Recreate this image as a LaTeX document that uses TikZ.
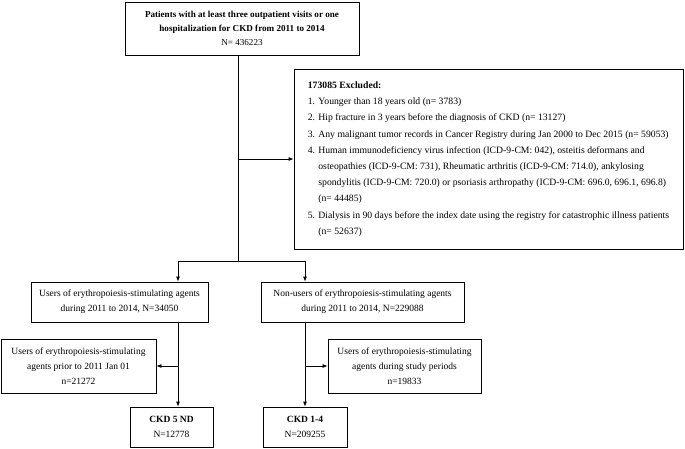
\documentclass[tikz,border=0pt]{standalone}
\usepackage{fontspec}
\setmainfont{Liberation Serif}
\usetikzlibrary{arrows.meta}
\tikzset{
  box/.style={draw, line width=0.8pt, inner sep=0pt, align=center, font=\fontsize{9.5}{15}\selectfont},
  arr/.style={line width=0.8pt, -{Latex[length=5pt,width=4pt]}},
  conn/.style={line width=0.8pt},
}
\begin{document}
\begin{tikzpicture}[x=1pt,y=1pt]
\useasboundingbox (0,0) rectangle (685,-448);
\node[box, minimum width=234pt, minimum height=53pt, font=\fontsize{9.1}{14.2}\selectfont] (top) at (242,-28.5)
  {\textbf{Patients with at least three outpatient visits or one}\\
   \textbf{hospitalization for CKD from 2011 to 2014}\\ N= 436223};
\node[box, minimum width=389pt, minimum height=180pt, align=left, font=\fontsize{9.7}{16.2}\selectfont] (excl) at (488.5,-159)
  {\textbf{173085 Excluded:}\\
   1. Younger than 18 years old (n= 3783)\\
   2. Hip fracture in 3 years before the diagnosis of CKD (n= 13127)\\
   3. Any malignant tumor records in Cancer Registry during Jan 2000 to Dec 2015 (n= 59053)\\
   4. Human immunodeficiency virus infection (ICD-9-CM: 042), osteitis deformans and\\
   \hphantom{4. }osteopathies (ICD-9-CM: 731), Rheumatic arthritis (ICD-9-CM: 714.0), ankylosing\\
   \hphantom{4. }spondylitis (ICD-9-CM: 720.0) or psoriasis arthropathy (ICD-9-CM: 696.0, 696.1, 696.8)\\
   \hphantom{4. }(n= 44485)\\
   5. Dialysis in 90 days before the index date using the registry for catastrophic illness patients\\
   \hphantom{5. }(n= 52637)};
\node[box, minimum width=177pt, minimum height=40pt] (users) at (119.5,-302)
  {Users of erythropoiesis-stimulating agents\\ during 2011 to 2014, N=34050};
\node[box, minimum width=203pt, minimum height=40pt] (nonusers) at (362.5,-302)
  {Non-users of erythropoiesis-stimulating agents\\ during 2011 to 2014, N=229088};
\node[box, minimum width=155pt, minimum height=54pt] (prior) at (78.5,-366)
  {Users of erythropoiesis-stimulating\\ agents prior to 2011 Jan 01\\ n=21272};
\node[box, minimum width=153pt, minimum height=54pt] (during) at (404.5,-366)
  {Users of erythropoiesis-stimulating\\ agents during study periods\\ n=19833};
\node[box, minimum width=83pt, minimum height=40pt] (ckd5) at (171.5,-427)
  {\textbf{CKD 5 ND}\\ N=12778};
\node[box, minimum width=84pt, minimum height=40pt] (ckd14) at (305,-427)
  {\textbf{CKD 1-4}\\ N=209255};
\coordinate (tt) at (238,-55);
\coordinate (br) at (238,-261);
\coordinate (bl) at (178,-261);
\coordinate (brr) at (305,-261);
\draw[conn] (tt) -- (br);
\draw[arr] (tt |- excl.west) -- (excl.west);
\draw[conn] (bl) -- (brr);
\draw[arr] (bl) -- (bl |- users.north);
\draw[arr] (brr) -- (brr |- nonusers.north);
\draw[arr] (bl |- users.south) -- (bl |- ckd5.north);
\draw[arr] (bl |- prior.east) -- (prior.east);
\draw[arr] (brr |- nonusers.south) -- (ckd14.north);
\draw[arr] (brr |- during.west) -- (during.west);
\end{tikzpicture}
\end{document}
